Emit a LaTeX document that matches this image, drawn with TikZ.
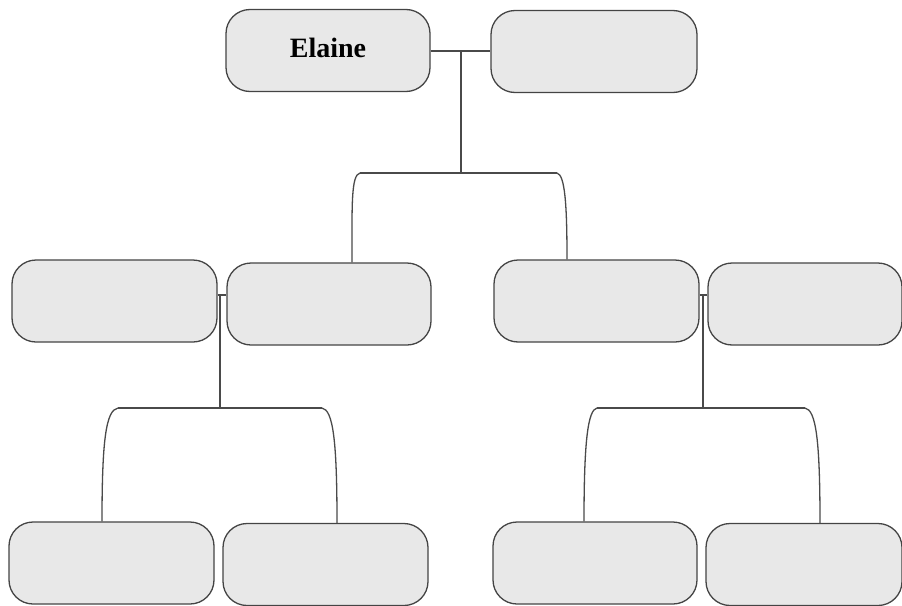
\documentclass[tikz,border=0pt]{standalone}
\usepackage{fontspec}
\setmainfont{Liberation Serif}
\definecolor{boxfill}{HTML}{E8E8E8}
\definecolor{boxline}{HTML}{444444}
\definecolor{linkcol}{HTML}{4A4A4A}
\begin{document}
\begin{tikzpicture}[x=1pt,y=-1pt,
  box/.style={draw=boxline, fill=boxfill, line width=1.3pt, rounded corners=24pt,
    minimum width=#1, minimum height=82pt, inner sep=0pt},
  box/.default=205pt,
  link/.style={draw=linkcol, line width=1.3pt},
  nametext/.style={font=\fontsize{28}{30}\selectfont\bfseries}]
\useasboundingbox (0,0) rectangle (902,605);
% top row
\node[box=204pt, nametext] (elaine) at (328,50.5) {\raisebox{5pt}{Elaine}};
\node[box=206pt] (spouse) at (594,51.5) {};
% middle row
\node[box=205pt] (a) at (114.5,301) {};
\node[box=204pt] (b) at (329,304) {};
\node[box=205pt] (c) at (596.5,301) {};
\node[box=194pt] (d) at (805,304) {};
% bottom row
\node[box=205pt] (e) at (111.5,563) {};
\node[box=205pt] (f) at (325.5,564.5) {};
\node[box=204pt] (g) at (595,563) {};
\node[box=196pt] (h) at (804,564.5) {};
% junction coordinates
\coordinate (j0) at (461,51);
\coordinate (t0) at (461,173);
\coordinate (t0l) at (360,173);
\coordinate (t0r) at (557,173);
\coordinate (ja) at (220,295);
\coordinate (ta) at (220,408);
\coordinate (tal) at (118,408);
\coordinate (tar) at (322,408);
\coordinate (jc) at (703,295);
\coordinate (tc) at (703,408);
\coordinate (tcl) at (597,408);
\coordinate (tcr) at (805,408);
% top couple and descent
\draw[link] (elaine.east |- j0) -- (spouse.west |- j0);
\draw[link] (j0) -- (t0);
\draw[link] (t0l) -- (t0r);
\draw[link] (t0l) .. controls (351,175) and (352,205) .. (b.north -| 352,0);
\draw[link] (t0r) .. controls (565,175) and (567,205) .. (c.north -| 567,0);
% left couple and descent
\draw[link] (a.east |- ja) -- (b.west |- ja);
\draw[link] (ja) -- (ta);
\draw[link] (tal) -- (tar);
\draw[link] (tal) .. controls (106,410) and (102,440) .. (e.north -| 102,0);
\draw[link] (tar) .. controls (333,410) and (337,440) .. (f.north -| 337,0);
% right couple and descent
\draw[link] (c.east |- jc) -- (d.west |- jc);
\draw[link] (jc) -- (tc);
\draw[link] (tcl) -- (tcr);
\draw[link] (tcl) .. controls (588,410) and (584,440) .. (g.north -| 584,0);
\draw[link] (tcr) .. controls (816,410) and (820,440) .. (h.north -| 820,0);
\end{tikzpicture}
\end{document}
